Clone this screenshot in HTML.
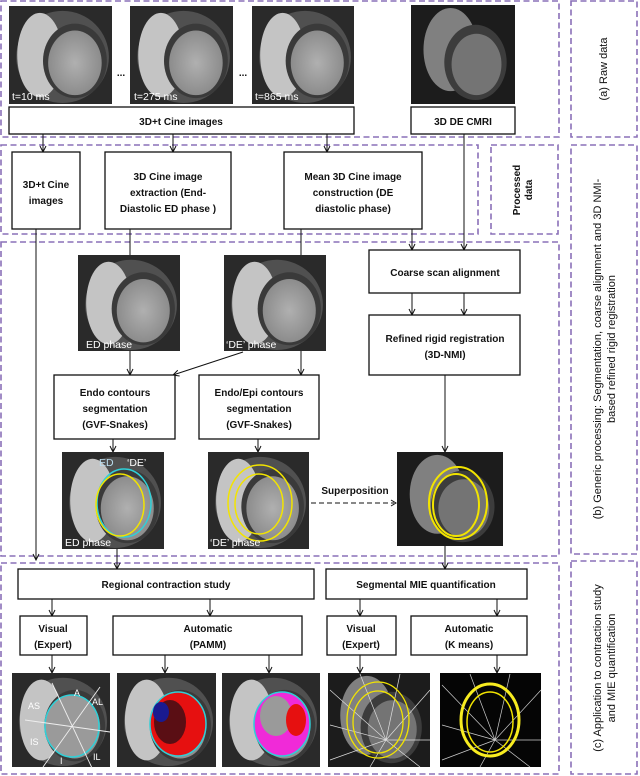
<!DOCTYPE html>
<html><head><meta charset="utf-8"><style>
body{margin:0;background:#fff}
svg{display:block}
text{font-family:"Liberation Sans",sans-serif;font-size:10px;font-weight:bold;fill:#111;text-anchor:middle}
.w{fill:#fff;font-weight:normal;text-anchor:start;font-size:10.5px}
.d{fill:none;stroke:#8a70b8;stroke-width:1.6;stroke-dasharray:6 3.5}
.b{fill:#fff;stroke:#111;stroke-width:1.3}
.l{stroke:#111;stroke-width:1;fill:none;marker-end:url(#a)}
</style></head><body>
<svg width="640" height="776" viewBox="0 0 640 776" xmlns="http://www.w3.org/2000/svg">
<defs>
<marker id="a" markerWidth="8" markerHeight="8" refX="7" refY="4" orient="auto" markerUnits="userSpaceOnUse"><path d="M1,1 L7,4 L1,7" fill="none" stroke="#111" stroke-width="1"/></marker>
<radialGradient id="g1" cx="0.5" cy="0.5" r="0.6"><stop offset="0" stop-color="#b0b0b0"/><stop offset="1" stop-color="#858585"/></radialGradient>
<symbol id="h" viewBox="0 0 100 100" preserveAspectRatio="none">
<rect width="100" height="100" fill="#2a2a2a"/>
<ellipse cx="52" cy="52" rx="45" ry="47" fill="#505050"/>
<ellipse cx="30" cy="50" rx="22" ry="43" fill="#c4c4c4"/>
<ellipse cx="64" cy="56" rx="31" ry="38" fill="#3a3a3a"/>
<ellipse cx="64" cy="58" rx="26" ry="33" fill="url(#g1)"/>
</symbol>
<symbol id="hd" viewBox="0 0 100 100" preserveAspectRatio="none">
<rect width="100" height="100" fill="#1c1c1c"/>
<ellipse cx="38" cy="45" rx="26" ry="42" fill="#808080"/>
<ellipse cx="62" cy="58" rx="30" ry="38" fill="#3c3c3c"/>
<ellipse cx="63" cy="60" rx="24" ry="31" fill="#747474"/>
</symbol>
</defs>

<rect class="d" x="1" y="1" width="558" height="136"/>
<rect class="d" x="571" y="1" width="66" height="136"/>
<rect class="d" x="1" y="145" width="477" height="89"/>
<rect class="d" x="491" y="145" width="67" height="89"/>
<rect class="d" x="571" y="145" width="66" height="409"/>
<rect class="d" x="1" y="242" width="558" height="314"/>
<rect class="d" x="1" y="563" width="558" height="211"/>
<rect class="d" x="571" y="561" width="66" height="213"/>

<use href="#h" x="9" y="6" width="103" height="98"/>
<use href="#h" x="130" y="6" width="103" height="98"/>
<use href="#h" x="252" y="6" width="102" height="98"/>
<use href="#hd" x="411" y="5" width="104" height="99"/>
<text class="w" x="12" y="100">t=10 ms</text>
<text class="w" x="134" y="100">t=275 ms</text>
<text class="w" x="255" y="100">t=865 ms</text>
<text x="121" y="76">...</text><text x="243" y="76">...</text>

<rect class="b" x="9" y="107" width="345" height="27"/>
<text x="181" y="125">3D+t Cine images</text>
<rect class="b" x="411" y="107" width="104" height="27"/>
<text x="463" y="125">3D DE CMRI</text>

<path class="l" d="M43,134 V152"/><path class="l" d="M173,134 V152"/><path class="l" d="M327,134 V152"/>
<rect class="b" x="12" y="152" width="68" height="77"/>
<text x="46" y="188">3D+t Cine</text><text x="46" y="204">images</text>
<rect class="b" x="105" y="152" width="126" height="77"/>
<text x="168" y="180">3D Cine image</text><text x="168" y="196">extraction (End-</text><text x="168" y="212">Diastolic ED phase )</text>
<rect class="b" x="284" y="152" width="138" height="77"/>
<text x="353" y="180">Mean 3D Cine image</text><text x="353" y="196">construction (DE</text><text x="353" y="212">diastolic phase)</text>
<text transform="translate(520,190) rotate(-90)">Processed</text>
<text transform="translate(532,190) rotate(-90)">data</text>

<path class="l" d="M36,229 V560"/>
<path d="M130,229 V255" stroke="#111"/>
<path d="M301,229 V255" stroke="#111"/>
<path class="l" d="M412,229 V250"/>
<path class="l" d="M464,134 V250"/>
<use href="#h" x="78" y="255" width="102" height="96"/>
<use href="#h" x="224" y="255" width="102" height="96"/>
<text class="w" x="86" y="348">ED phase</text>
<text class="w" x="226" y="348">‘DE’ phase</text>

<rect class="b" x="369" y="250" width="151" height="43"/>
<text x="445" y="276">Coarse scan alignment</text>
<path class="l" d="M412,293 V315"/><path class="l" d="M464,293 V315"/>
<rect class="b" x="369" y="315" width="151" height="60"/>
<text x="445" y="342">Refined rigid registration</text><text x="445" y="358">(3D-NMI)</text>
<path class="l" d="M445,375 V452"/>

<path class="l" d="M130,351 V375"/>
<path class="l" d="M243,352 L173,375"/>
<path class="l" d="M301,351 V375"/>
<rect class="b" x="54" y="375" width="121" height="64"/>
<text x="115" y="396">Endo contours</text><text x="115" y="412">segmentation</text><text x="115" y="428">(GVF-Snakes)</text>
<rect class="b" x="199" y="375" width="120" height="64"/>
<text x="259" y="396">Endo/Epi contours</text><text x="259" y="412">segmentation</text><text x="259" y="428">(GVF-Snakes)</text>
<path class="l" d="M113,439 V452"/><path class="l" d="M258,439 V452"/>

<use href="#h" x="62" y="452" width="102" height="97"/>
<ellipse cx="124" cy="503" rx="27" ry="34" fill="none" stroke="#2fd0d8" stroke-width="1.5"/>
<ellipse cx="120" cy="505" rx="24" ry="31" fill="none" stroke="#f2e400" stroke-width="1.5"/>
<text class="w" x="65" y="546">ED phase</text>
<text class="w" x="99" y="466" style="fill:#bde">ED</text><text class="w" x="127" y="466">‘DE’</text>

<use href="#h" x="208" y="452" width="101" height="97"/>
<ellipse cx="260" cy="503" rx="32" ry="38" fill="none" stroke="#f2e400" stroke-width="1.5"/>
<ellipse cx="259" cy="504" rx="24" ry="30" fill="none" stroke="#f2e400" stroke-width="1.5"/>
<text class="w" x="210" y="546">‘DE’ phase</text>

<text x="355" y="494">Superposition</text>
<path d="M311,503 H394" stroke="#111" stroke-dasharray="5 3" fill="none"/>
<path d="M391,500 L396,503 L391,506" fill="none" stroke="#111"/>

<use href="#hd" x="397" y="452" width="106" height="94"/>
<ellipse cx="458" cy="503" rx="29" ry="36" fill="none" stroke="#f2e400" stroke-width="2"/>
<ellipse cx="456" cy="505" rx="23" ry="31" fill="none" stroke="#f2e400" stroke-width="2"/>

<path class="l" d="M117,549 V569"/>
<path class="l" d="M445,546 V569"/>
<rect class="b" x="18" y="569" width="296" height="30"/>
<text x="166" y="588">Regional contraction study</text>
<rect class="b" x="326" y="569" width="201" height="30"/>
<text x="426" y="588">Segmental MIE quantification</text>
<path class="l" d="M52,599 V616"/><path class="l" d="M210,599 V616"/>
<path class="l" d="M360,599 V616"/><path class="l" d="M497,599 V616"/>
<rect class="b" x="20" y="616" width="67" height="39"/>
<text x="53" y="632">Visual</text><text x="53" y="648">(Expert)</text>
<rect class="b" x="113" y="616" width="189" height="39"/>
<text x="208" y="632">Automatic</text><text x="208" y="648">(PAMM)</text>
<rect class="b" x="327" y="616" width="69" height="39"/>
<text x="361" y="632">Visual</text><text x="361" y="648">(Expert)</text>
<rect class="b" x="411" y="616" width="116" height="39"/>
<text x="469" y="632">Automatic</text><text x="469" y="648">(K means)</text>
<path class="l" d="M52,655 V673"/><path class="l" d="M165,655 V673"/><path class="l" d="M269,655 V673"/>
<path class="l" d="M360,655 V673"/><path class="l" d="M497,655 V673"/>

<use href="#h" x="12" y="673" width="98" height="94"/>
<ellipse cx="72" cy="726" rx="27" ry="31" fill="#9a9a9a" stroke="#2fd0d8" stroke-width="1.5"/>
<g stroke="#eee" stroke-width="0.9"><path d="M52,683 L92,768"/><path d="M100,687 L43,767"/><path d="M25,720 L110,732"/></g>
<text class="w" x="74" y="696" style="font-size:9px">A</text><text class="w" x="92" y="705" style="font-size:9px">AL</text>
<text class="w" x="28" y="709" style="font-size:9px">AS</text><text class="w" x="30" y="745" style="font-size:9px">IS</text>
<text class="w" x="60" y="764" style="font-size:9px">I</text><text class="w" x="93" y="760" style="font-size:9px">IL</text>

<use href="#h" x="117" y="673" width="99" height="94"/>
<ellipse cx="178" cy="724" rx="28" ry="32" fill="#e61010" stroke="#2fd0d8" stroke-width="1.5"/>
<ellipse cx="170" cy="722" rx="16" ry="22" fill="#5a0e14"/>
<ellipse cx="161" cy="712" rx="8" ry="10" fill="#1a1a90"/>

<use href="#h" x="222" y="673" width="98" height="94"/>
<ellipse cx="282" cy="724" rx="28" ry="32" fill="#f02ad8" stroke="#2fd0d8" stroke-width="1.5"/>
<ellipse cx="276" cy="716" rx="16" ry="20" fill="#9a9a9a"/>
<ellipse cx="296" cy="720" rx="10" ry="16" fill="#e61010"/>

<use href="#hd" x="328" y="673" width="102" height="94"/>
<g stroke="#ddd" stroke-width="0.7">
<path d="M386,740 L330,690 M386,740 L360,674 M386,740 L400,674 M386,740 L430,690 M386,740 L430,740 M386,740 L420,767 M386,740 L370,767 M386,740 L330,760 M386,740 L330,725"/>
</g>
<ellipse cx="378" cy="720" rx="31" ry="38" fill="none" stroke="#f2e400" stroke-width="1.3"/>
<ellipse cx="378" cy="722" rx="25" ry="31" fill="none" stroke="#f2e400" stroke-width="1.3"/>

<rect x="440" y="673" width="101" height="94" fill="#050505"/>
<g stroke="#ccc" stroke-width="0.7">
<path d="M495,740 L442,685 M495,740 L470,674 M495,740 L510,674 M495,740 L541,690 M495,740 L541,740 M495,740 L530,767 M495,740 L480,767 M495,740 L442,760 M495,740 L442,725"/>
</g>
<ellipse cx="490" cy="720" rx="29" ry="36" fill="none" stroke="#f8ec20" stroke-width="3"/>
<ellipse cx="490" cy="722" rx="23" ry="30" fill="none" stroke="#f2e400" stroke-width="1.5"/>

<text transform="translate(607,69) rotate(-90)" style="font-weight:normal;font-size:11px">(a)  Raw data</text>
<text transform="translate(601,349) rotate(-90)" style="font-weight:normal;font-size:11px">(b)  Generic processing: Segmentation, coarse alignment and 3D NMI-</text>
<text transform="translate(615,349) rotate(-90)" style="font-weight:normal;font-size:11px">based refined rigid registration</text>
<text transform="translate(601,668) rotate(-90)" style="font-weight:normal;font-size:11px">(c)  Application to contraction study</text>
<text transform="translate(615,668) rotate(-90)" style="font-weight:normal;font-size:11px">and MIE quantification</text>
</svg>
</body></html>
